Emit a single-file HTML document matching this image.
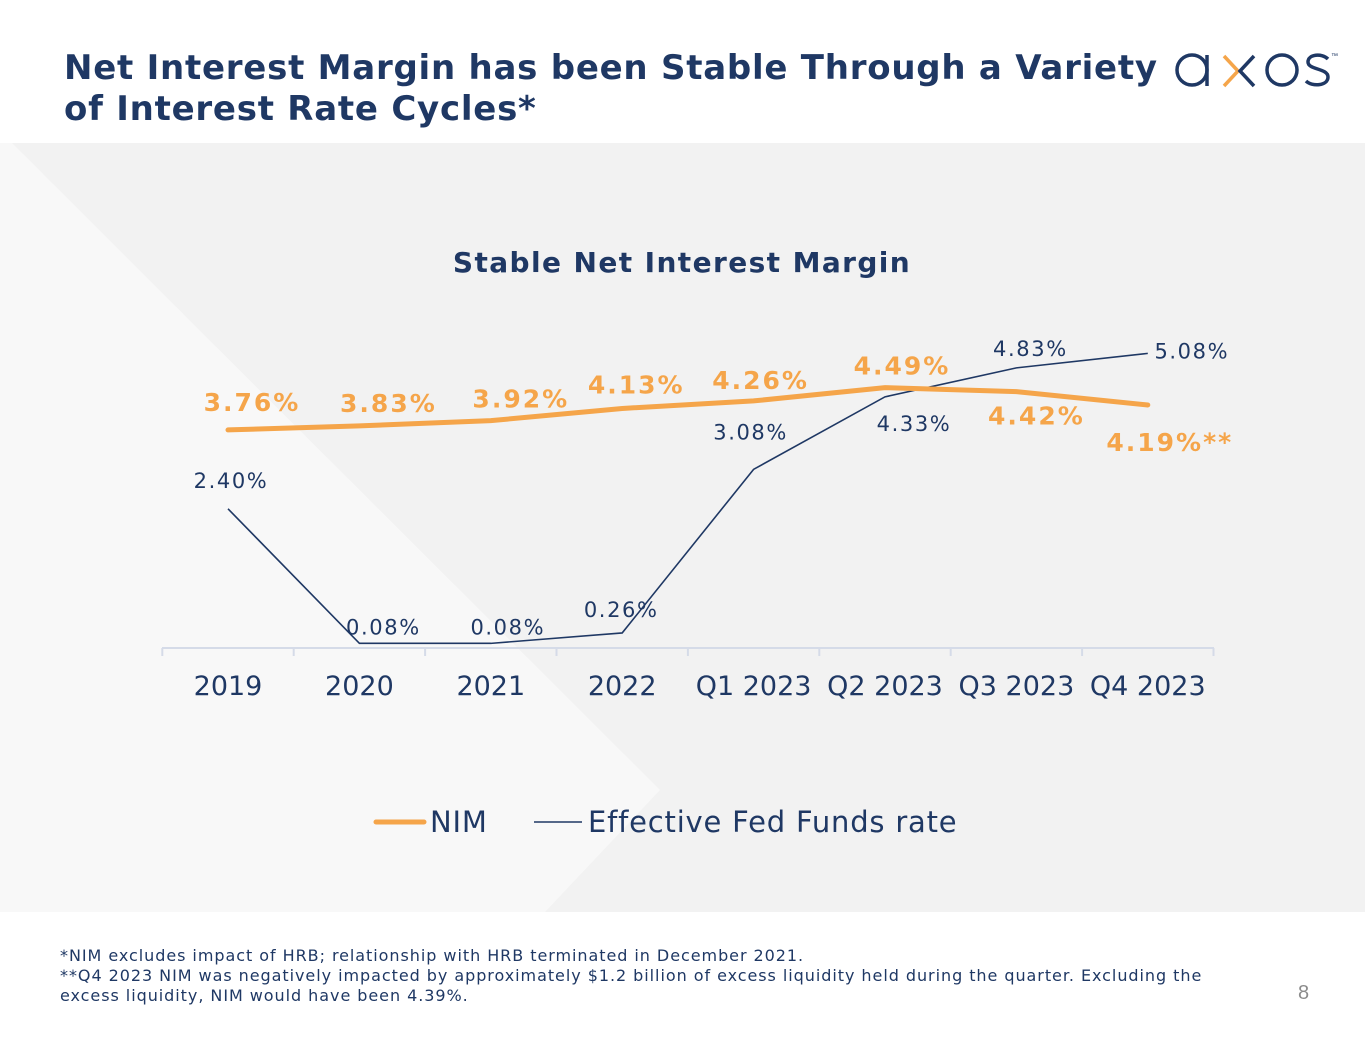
<!DOCTYPE html>
<html><head><meta charset="utf-8"><style>
body{margin:0;width:1365px;height:1055px;background:#fff;font-family:"Liberation Sans","DejaVu Sans",sans-serif;overflow:hidden;position:relative}
h1{position:absolute;left:64px;top:48px;margin:0;font-family:"DejaVu Sans",sans-serif;font-weight:bold;font-size:34px;line-height:41px;color:#1f3864;letter-spacing:0.75px;white-space:nowrap}
.foot{position:absolute;left:60px;top:946px;font-family:"DejaVu Sans",sans-serif;font-size:16px;line-height:20px;color:#1f3864;letter-spacing:0.95px;white-space:nowrap}
</style></head><body>
<svg width="1365" height="1055" style="position:absolute;left:0;top:0">
<rect x="0" y="143" width="1365" height="769" fill="#f8f8f8"/>
<polygon points="12,143 1365,143 1365,912 545,912 660,790" fill="#f2f2f2"/>
</svg>
<h1>Net Interest Margin has been Stable Through a Variety<br>of Interest Rate Cycles*</h1>
<svg width="190" height="60" style="position:absolute;left:1168px;top:40px">
<circle cx="24" cy="30" r="15" fill="none" stroke="#1f3864" stroke-width="3.5"/><line x1="39" y1="15" x2="39" y2="46" stroke="#1f3864" stroke-width="3.5"/>
<polyline points="56,16 70,31 56,46" fill="none" stroke="#f5a54a" stroke-width="3.5"/>
<polyline points="86,16 72,31 86,46" fill="none" stroke="#1f3864" stroke-width="3.5"/>
<circle cx="114" cy="30" r="15" fill="none" stroke="#1f3864" stroke-width="3.5"/>
<path d="M160,19 C154,13 140,14 140,22 C140,30 160,28 160,37 C160,46 144,47 138,41" fill="none" stroke="#1f3864" stroke-width="3.5"/>
<text x="163" y="18" font-size="7" fill="#1f3864">™</text>
</svg>
<svg id="chart" width="1365" height="1055" style="position:absolute;left:0;top:0"></svg>
<div class="foot">*NIM excludes impact of HRB; relationship with HRB terminated in December 2021.<br>**Q4 2023 NIM was negatively impacted by approximately $1.2 billion of excess liquidity held during the quarter. Excluding the<br>excess liquidity, NIM would have been 4.39%.</div>
<div style="position:absolute;left:1298px;top:982px;font-size:20px;color:#8c8c8c">8</div>
<script>
const categories=["2019","2020","2021","2022","Q1 2023","Q2 2023","Q3 2023","Q4 2023"];
const nimValues=[3.76,3.83,3.92,4.13,4.26,4.49,4.42,4.19];
const nimLabels=["3.76%","3.83%","3.92%","4.13%","4.26%","4.49%","4.42%","4.19%**"];
const fedValues=[2.40,0.08,0.08,0.26,3.08,4.33,4.83,5.08];
const fedLabels=["2.40%","0.08%","0.08%","0.26%","3.08%","4.33%","4.83%","5.08%"];
const nimOff=[[24,-28],[29,-23],[30,-22],[14,-24],[7,-21],[17,-22],[20,24],[22,37]];
const fedOff=[[3,-29],[24,-17],[17,-17],[-1,-24],[-3,-38],[29,26],[14,-20],[44,-3]];
const NS="http://www.w3.org/2000/svg",svg=document.getElementById('chart');
const x0=228,step=131.4,yBase=648,k=58;
const X=i=>x0+i*step, Y=v=>yBase-v*k;
function mk(t,a,p){const e=document.createElementNS(NS,t);for(const n in a)e.setAttribute(n,a[n]);(p||svg).appendChild(e);return e;}
let t=mk('text',{x:682,y:272,'text-anchor':'middle','font-family':'DejaVu Sans','font-weight':'bold','font-size':28,'letter-spacing':1.4,fill:'#1f3864'});t.textContent='Stable Net Interest Margin';


let ax=mk('line',{x1:162,x2:1214,y1:yBase,y2:yBase,stroke:'#d5dbe8','stroke-width':2});


for(let i=0;i<=categories.length;i++){let tk=mk('line',{x1:X(i)-step/2,x2:X(i)-step/2,y1:yBase,y2:yBase+8,stroke:'#d5dbe8','stroke-width':2});

}
categories.forEach((c,i)=>{let l=mk('text',{x:X(i),y:695,'text-anchor':'middle','font-family':'DejaVu Sans','font-size':27,fill:'#1f3864'});l.textContent=c;

});
let fp=mk('polyline',{points:fedValues.map((v,i)=>X(i)+','+Y(v)).join(' '),fill:'none',stroke:'#1f3864','stroke-width':1.6});


let np=mk('polyline',{points:nimValues.map((v,i)=>X(i)+','+Y(v)).join(' '),fill:'none',stroke:'#f5a54a','stroke-width':5,'stroke-linecap':'round'});


nimValues.forEach((v,i)=>{let l=mk('text',{x:X(i)+nimOff[i][0],y:Y(v)+nimOff[i][1]+9,'text-anchor':'middle','font-family':'DejaVu Sans','font-weight':'bold','font-size':25,'letter-spacing':2,fill:'#f5a54a'});l.textContent=nimLabels[i];

});
fedValues.forEach((v,i)=>{let l=mk('text',{x:X(i)+fedOff[i][0],y:Y(v)+fedOff[i][1]+8,'text-anchor':'middle','font-family':'DejaVu Sans','font-size':21,'letter-spacing':1.6,fill:'#1f3864'});l.textContent=fedLabels[i];

});
let g=mk('g',{});


mk('line',{x1:376,x2:424,y1:822,y2:822,stroke:'#f5a54a','stroke-width':5,'stroke-linecap':'round'},g);
let a=mk('text',{x:430,y:832,'font-family':'DejaVu Sans','font-size':29,'letter-spacing':0.8,fill:'#1f3864'},g);a.textContent='NIM';
mk('line',{x1:534,x2:582,y1:822,y2:822,stroke:'#1f3864','stroke-width':1.6},g);
let b=mk('text',{x:588,y:832,'font-family':'DejaVu Sans','font-size':29,'letter-spacing':0.8,fill:'#1f3864'},g);b.textContent='Effective Fed Funds rate';
</script>
</body></html>
